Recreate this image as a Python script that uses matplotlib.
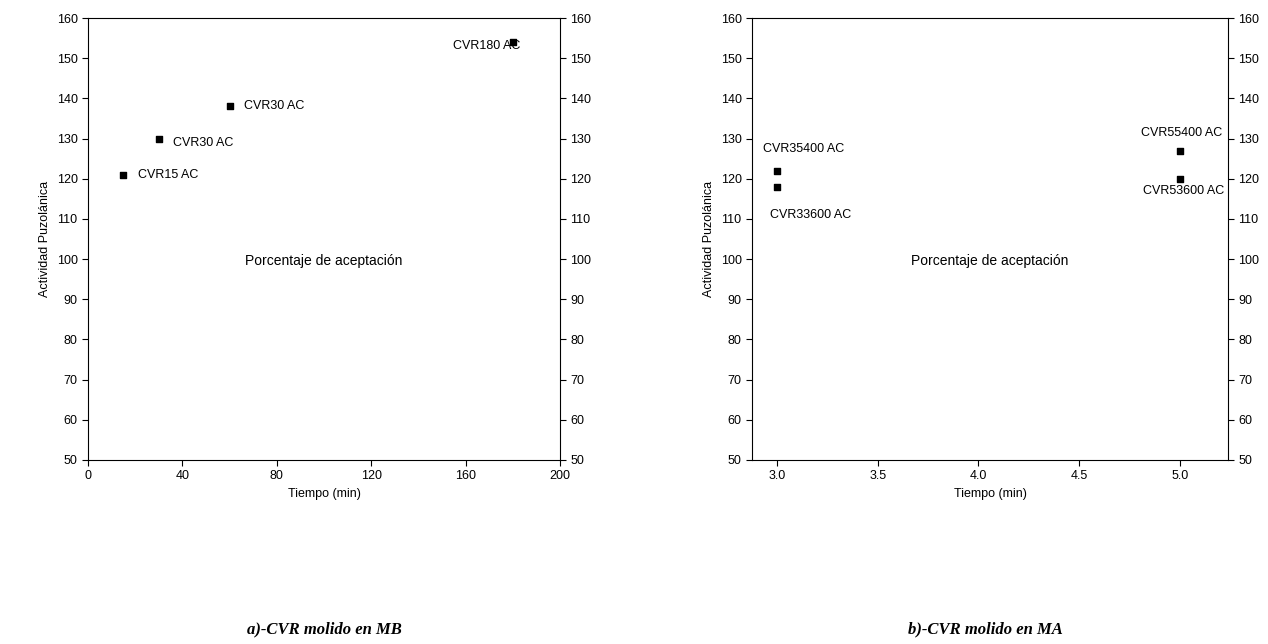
import matplotlib.pyplot as plt

# panel a
t_a = [15, 30, 60, 180]
act_a = [121, 130, 138, 154]
lab_a = ["CVR15 AC", "CVR30 AC", "CVR30 AC", "CVR180 AC"]
# panel b
t_b = [3.0, 3.0, 5.0, 5.0]
act_b = [122, 118, 127, 120]
lab_b = ["CVR35400 AC", "CVR33600 AC", "CVR55400 AC", "CVR53600 AC"]

plt.rcParams['font.family'] = ['Liberation Sans', 'DejaVu Sans']
plt.rcParams['font.size'] = 9

fig = plt.figure(figsize=(12.68, 6.44), dpi=100)
W, H = 1268, 644
axa = fig.add_axes([88/W, 1-460/H, 472/W, 442/H])
axb = fig.add_axes([752/W, 1-460/H, 476/W, 442/H])

def style(ax):
    ax.set_ylim(50, 160)
    ax.set_yticks(range(50, 161, 10))
    ax.tick_params(direction='out', length=4, right=True, labelright=True)
    ax.set_ylabel("Actividad Puzolánica")
    ax.set_xlabel("Tiempo (min)")
    ax.text(0.5, 0.45, "Porcentaje de aceptación", transform=ax.transAxes,
            ha='center', va='center', fontsize=10)

style(axa)
axa.scatter(t_a, act_a, c='black', s=14, marker='s')
axa.set_xlim(0, 200)
axa.set_xticks(range(0, 201, 40))
offs_a = [(6, 0, 'left'), (6, -1, 'left'), (6, 0, 'left'), (3, -1, 'right')]
for x, y, l, (dx, dy, ha) in zip(t_a, act_a, lab_a, offs_a):
    axa.text(x + dx, y + dy, l, ha=ha, va='center')

style(axb)
axb.scatter(t_b, act_b, c='black', s=14, marker='s')
axb.set_xlim(2.876, 5.24)
axb.set_xticks([3.0, 3.5, 4.0, 4.5, 5.0])
axb.set_xticklabels(["3.0", "3.5", "4.0", "4.5", "5.0"])
offs_b = [(-0.07, 5.5, 'left'), (-0.035, -7, 'left'), (0.21, 4.5, 'right'), (0.22, -3, 'right')]
for x, y, l, (dx, dy, ha) in zip(t_b, act_b, lab_b, offs_b):
    axb.text(x + dx, y + dy, l, ha=ha, va='center')

fig.text(324/W, 1-629/H, "a)-CVR molido en MB", ha='center', va='center',
         fontsize=12, fontweight='bold', style='italic', family='Liberation Serif')
fig.text(985/W, 1-629/H, "b)-CVR molido en MA", ha='center', va='center',
         fontsize=12, fontweight='bold', style='italic', family='Liberation Serif')

fig.savefig("out.png", dpi=100)
